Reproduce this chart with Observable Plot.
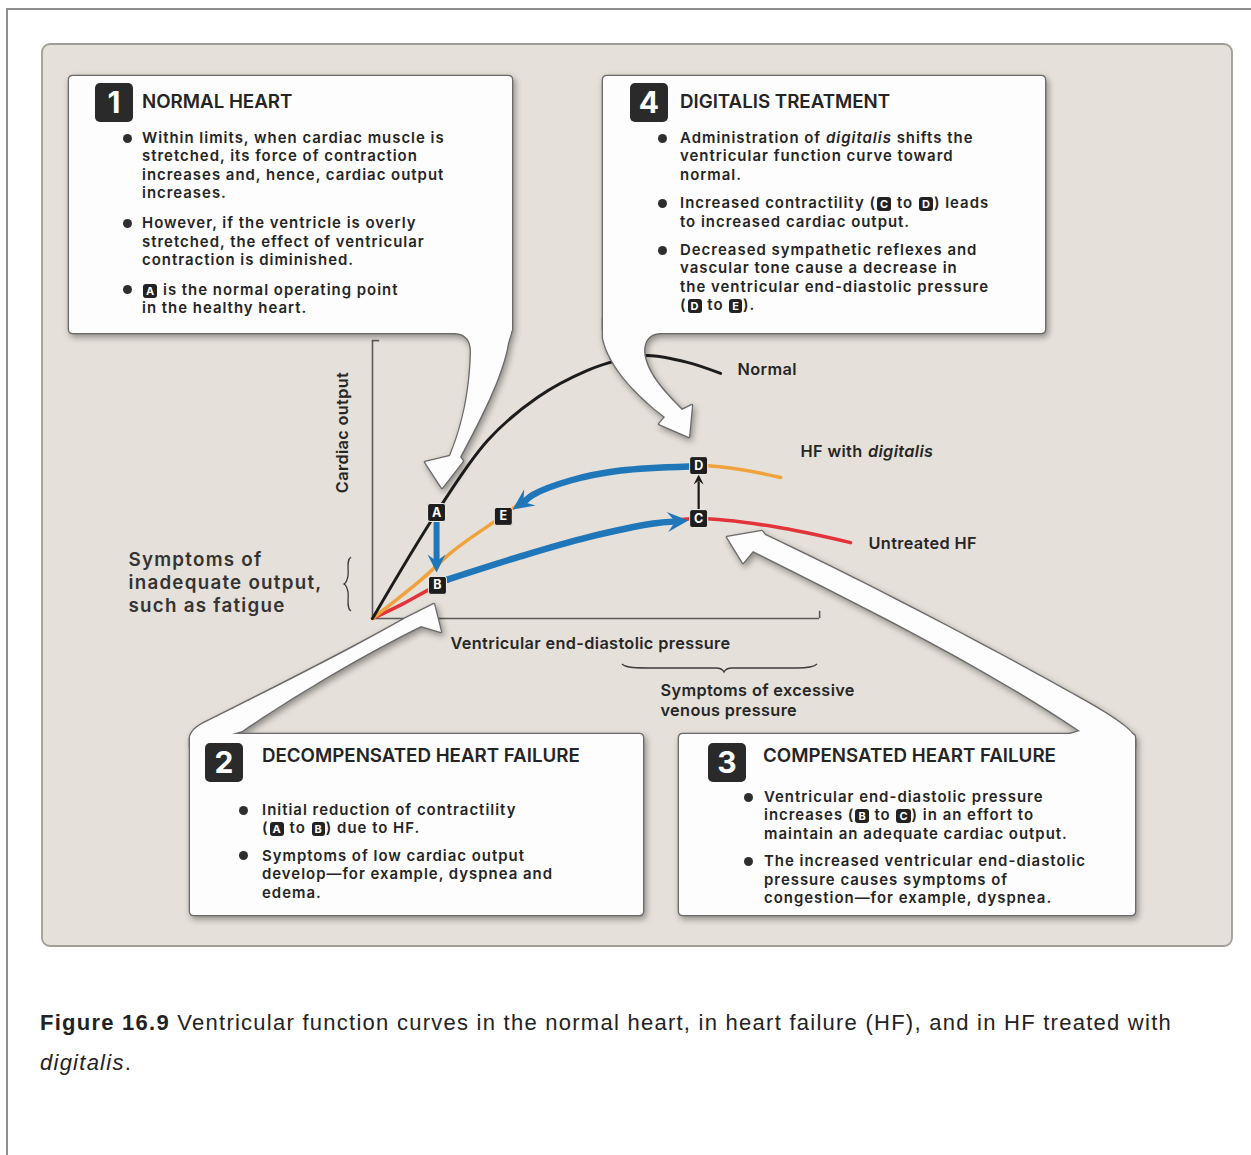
<!DOCTYPE html>
<html><head><meta charset="utf-8">
<script src="https://cdn.jsdelivr.net/npm/d3@7"></script>
<script src="https://cdn.jsdelivr.net/npm/@observablehq/plot@0.6"></script>
<style>
html,body{margin:0;padding:0;background:#fff;overflow:hidden;width:1251px;height:1155px;position:relative;}
#frame{position:absolute;left:6px;top:8px;width:1400px;height:1400px;border:2px solid #8d8d8d;box-sizing:border-box;}
#stage{position:absolute;left:0;top:0;width:1251px;height:960px;}
#stage svg{position:absolute;left:0;top:0;}
.t{position:absolute;white-space:nowrap;font-family:Inter,"Open Sans",sans-serif;font-weight:600;color:#242424;font-size:15px;line-height:17px;}
.num{position:absolute;width:38px;height:39px;background:#2a2a2a;border-radius:5px;color:#fff;font:700 30px/39px Inter,"Open Sans",sans-serif;text-align:center;}
.dot{position:absolute;width:9px;height:9px;border-radius:50%;background:#2e2e2e;}
.bd{display:inline-block;padding:0 3px;background:#222;color:#fff;border-radius:3px;font-size:11px;line-height:14px;margin:0 1px;font-weight:700;letter-spacing:0;}
.cap{position:absolute;left:40px;white-space:nowrap;font-family:"Liberation Sans Narrow","Liberation Sans",Arial,sans-serif;font-size:22px;line-height:22px;color:#222;}
</style></head><body>
<div id="frame"></div>
<div id="stage"></div>
<div id="cap1" class="cap" style="top:1012px"><b>Figure 16.9</b> Ventricular function curves in the normal heart, in heart failure (HF), and in HF treated with</div>
<div id="cap2" class="cap" style="top:1052px"><i>digitalis</i>.</div>
<script>
// ---------------- DATA (pressure 0-100, cardiac output 0-100) ----------------
const normalPressure = [0, 14.3, 25.7, 36.8, 48.0, 55.4, 61.4, 70.3, 77.7];
const normalOutput   = [0, 38.4, 64.5, 80.1, 89.9, 93.8, 95.3, 92.8, 88.8];

const digitalisPressure = [0, 10.7, 18.1, 29.2, 35.9, 44.2, 55.4, 72.8, 82.1, 91.1];
const digitalisOutput   = [0, 13.8, 24.6, 37.3, 44.9, 50.0, 53.6, 55.4, 54.0, 51.1];

const untreatedPressure = [0, 6.9, 14.5, 24.1, 33.0, 48.0, 62.7, 72.8, 89.5, 106.7];
const untreatedOutput   = [0, 5.4, 12.0, 18.2, 22.5, 29.4, 34.4, 36.2, 33.3, 27.5];

const pointLabels   = ["A", "B", "C", "D", "E"];
const pointPressure = [14.3, 14.5, 72.8, 72.8, 29.2];
const pointOutput   = [38.4, 12.0, 36.2, 55.4, 37.0];

// transitions: shaft points + tip
const abPressure = [14.3, 14.3], abOutput = [35.1, 19.6], abTip = [14.3, 16.7];
const bcPressure = [16.7, 33.0, 48.0, 62.7, 67.2], bcOutput = [14.1, 22.5, 29.4, 34.4, 35.1], bcTip = [70.5, 35.5];
const dePressure = [70.8, 55.4, 44.2, 35.9, 34.2], deOutput = [55.1, 53.6, 50.0, 44.9, 42.8], deTip = [31.3, 39.5];
const cdPressure = [72.8, 72.8], cdOutput = [39.5, 49.3], cdTip = [72.8, 52.2];

const curveLabels = ["Normal", "HF with ", "digitalis", "Untreated HF"];
const axisLabels = ["Cardiac output", "Ventricular end-diastolic pressure"];
const symptomLabels = ["Symptoms of\ninadequate output,\nsuch as fatigue", "Symptoms of excessive\nvenous pressure"];

const box1Title = "NORMAL HEART";
const box1Paras = [
  ["Within limits, when cardiac muscle is", "stretched, its force of contraction", "increases and, hence, cardiac output", "increases."],
  ["However, if the ventricle is overly", "stretched, the effect of ventricular", "contraction is diminished."],
  ["{A} is the normal operating point", "in the healthy heart."]
];
const box4Title = "DIGITALIS TREATMENT";
const box4Paras = [
  ["Administration of <i>digitalis</i> shifts the", "ventricular function curve toward", "normal."],
  ["Increased contractility ({C} to {D}) leads", "to increased cardiac output."],
  ["Decreased sympathetic reflexes and", "vascular tone cause a decrease in", "the ventricular end-diastolic pressure", "({D} to {E})."]
];
const box2Title = "DECOMPENSATED HEART FAILURE";
const box2Paras = [
  ["Initial reduction of contractility", "({A} to {B}) due to HF."],
  ["Symptoms of low cardiac output", "develop\u2014for example, dyspnea and", "edema."]
];
const box3Title = "COMPENSATED HEART FAILURE";
const box3Paras = [
  ["Ventricular end-diastolic pressure", "increases ({B} to {C}) in an effort to", "maintain an adequate cardiac output."],
  ["The increased ventricular end-diastolic", "pressure causes symptoms of", "congestion\u2014for example, dyspnea."]
];

// ---------------- LAYOUT (pixels) ----------------
const layout = {
  panel: {x: 42, y: 44, w: 1190, h: 902},
  boxes: [
    {x: 69, y: 76, w: 443, h: 257},
    {x: 603, y: 76, w: 442, h: 257},
    {x: 190, y: 734, w: 453, h: 181},
    {x: 679, y: 734, w: 456, h: 181}
  ],
  arrows: [
    "M455,318 L455,333 Q471,334 471,352 C470,395 461,430 450,456 L425,462 L442,488 L463,461 L460,457 C480,420 503,375 508,343 L511,333 L511,318 Z",
    "M603,318 L603,338 C609,368 640,398 665,417 L659,424 L689,437 L692,405 L682,410 C662,390 646,372 644,352 Q644,334 660,333 L660,318 Z",
    "M202,748 L190,748 L190,738 C191,730 199,725 210,720 C280,685 350,650 406,618 L434,604 L441,632 L421,626 C360,656 292,697 242,731 L232,734 L232,748 Z",
    "M1122,748 L1135,748 L1135,739 C1134,731 1115,718 1085,701 C1025,667 890,594 765,535 L762,531 L727,537 L743,563 L753,551 C865,607 985,667 1080,731 L1070,734 L1070,748 Z"
  ],
  braces: [
    "M351,557 C346,560 349,570 348,576 C347,581 346,583 344,584 C346,585 347,587 348,592 C349,598 346,608 351,611",
    "M622,664 C626,668 636,668 656,668 L716,668 C721,668 723,670 724,672 C725,670 727,668 732,668 L797,668 C809,668 814,667 817,664"
  ],
  texts: [
    {title: box1Title, paras: box1Paras, num: "1", numX: 95, numY: 83, titleX: 142, titleBase: 108, x: 142, base: 143, gap: 11.5, dotDx: 15},
    {title: box4Title, paras: box4Paras, num: "4", numX: 630, numY: 83, titleX: 680, titleBase: 108, x: 680, base: 143, gap: 10, dotDx: 18},
    {title: box2Title, paras: box2Paras, num: "2", numX: 205, numY: 743, titleX: 262, titleBase: 762, x: 262, base: 815, gap: 9, dotDx: 19},
    {title: box3Title, paras: box3Paras, num: "3", numX: 708, numY: 743, titleX: 763, titleBase: 762, x: 764, base: 802, gap: 9, dotDx: 16}
  ],
  lineH: 18.4, bigLine: 23, labelLine: 20,
  fit: {body: ["Within limits, when cardiac muscle is", 303], title: ["DECOMPENSATED HEART FAILURE", 318],
        label: ["Ventricular end-diastolic pressure", 280], big: ["inadequate output,", 194], caption: 1132}
};

const COLORS = {normal: "#1c1c1c", digitalis: "#f0a23c", untreated: "#e2323a", blue: "#1f76b8", axis: "#5a5a5a", text: "#262626"};
const FAMILY = "Inter, 'Open Sans', sans-serif";
const WEIGHT = 600;

// font-size / letter-spacing fitting via canvas measurement
const mctx = document.createElement("canvas").getContext("2d");
function textWidth(text, size, weight = WEIGHT, style = "") { mctx.font = `${style} ${weight} ${size}px ${FAMILY}`; return mctx.measureText(text).width; }
mctx.font = `${WEIGHT} 100px ${FAMILY}`;
const mm = mctx.measureText("Hg");
const contentRatio = (mm.fontBoundingBoxAscent && mm.fontBoundingBoxDescent) ? (mm.fontBoundingBoxAscent + mm.fontBoundingBoxDescent) / 100 : 1.21;
// largest size that fits the target width while stacked lines stay apart
function fitFont([text, target], lineStep = Infinity) {
  const size = Math.min(100 * target / textWidth(text, 100), (lineStep - 0.3) / contentRatio);
  return {size, spacing: Math.max(0, (target - textWidth(text, size)) / text.length)};
}
const body = fitFont(layout.fit.body, layout.lineH);
const title = fitFont(layout.fit.title);
const label = fitFont(layout.fit.label, layout.labelLine);
const big = fitFont(layout.fit.big, layout.bigLine);

// scales mirrored from the Plot scales
const X = d3.scaleLinear([0, 100], [372, 820]);
const Y = d3.scaleLinear([0, 100], [618, 342]);

const rows = (xs, ys) => xs.map((x, i) => ({x, y: ys[i]}));

function headSymbol(from, tip, L, w) {
  const a = Math.atan2(Y(tip[1]) - Y(from[1]), X(tip[0]) - X(from[0]));
  const c = Math.cos(a), s = Math.sin(a);
  const pts = [[0, 0], [-L, -w], [-0.62 * L, 0], [-L, w]].map(([px, py]) => [px * c - py * s, px * s + py * c]);
  return {draw(ctx) { ctx.moveTo(...pts[0]); for (let i = 1; i < pts.length; i++) ctx.lineTo(...pts[i]); ctx.closePath(); }};
}
const badgeSymbol = {draw(ctx, size) {
  const h = Math.sqrt(size / Math.PI), r = 2.5;
  ctx.moveTo(-h + r, -h); ctx.lineTo(h - r, -h); ctx.arcTo(h, -h, h, -h + r, r);
  ctx.lineTo(h, h - r); ctx.arcTo(h, h, h - r, h, r); ctx.lineTo(-h + r, h); ctx.arcTo(-h, h, -h, h - r, r);
  ctx.lineTo(-h, -h + r); ctx.arcTo(-h, -h, -h + r, -h, r); ctx.closePath();
}};

function panelMark() {
  const g = d3.create("svg:g");
  const p = layout.panel;
  g.append("rect").attr("x", p.x).attr("y", p.y).attr("width", p.w).attr("height", p.h).attr("rx", 8)
    .attr("fill", "#e5e0d9").attr("stroke", "#a29d96").attr("stroke-width", 1.8);
  g.selectAll("path.brace").data(layout.braces).join("path").attr("d", d => d)
    .attr("fill", "none").attr("stroke", "#3c3c3c").attr("stroke-width", 1.3);
  return g.node();
}
function roundRect(b, r = 4) {
  return `M${b.x + r},${b.y} H${b.x + b.w - r} Q${b.x + b.w},${b.y} ${b.x + b.w},${b.y + r} V${b.y + b.h - r} Q${b.x + b.w},${b.y + b.h} ${b.x + b.w - r},${b.y + b.h} H${b.x + r} Q${b.x},${b.y + b.h} ${b.x},${b.y + b.h - r} V${b.y + r} Q${b.x},${b.y} ${b.x + r},${b.y} Z`;
}
function calloutMark() {
  const g = d3.create("svg:g");
  const shapes = [...layout.boxes.map(b => roundRect(b)), ...layout.arrows];
  g.append("g").style("filter", "drop-shadow(2px 3px 3px rgba(0,0,0,0.38))")
    .selectAll("path").data(shapes).join("path").attr("d", d => d)
    .attr("fill", "#fff").attr("stroke", "#6a6a6a").attr("stroke-width", 2.6).attr("stroke-linejoin", "round");
  g.append("g").selectAll("path").data(shapes).join("path").attr("d", d => d).attr("fill", "#fdfdfd");
  return g.node();
}

const points = pointLabels.map((l, i) => ({label: l, x: pointPressure[i], y: pointOutput[i]}));
const tips = [
  {from: [abPressure[1], abOutput[1]], tip: abTip, L: 18, w: 9, fill: COLORS.blue},
  {from: [bcPressure[4], bcOutput[4]], tip: bcTip, L: 21, w: 10, fill: COLORS.blue},
  {from: [dePressure[4], deOutput[4]], tip: deTip, L: 21, w: 10, fill: COLORS.blue},
  {from: [cdPressure[1], cdOutput[1]], tip: cdTip, L: 10, w: 5, fill: "#1a1a1a"}
];

// label anchor positions (pixels -> data units through the same linear mapping)
const hfX = 800, digX = hfX + textWidth(curveLabels[1], label.size) + label.spacing * curveLabels[1].length + 1;
const lbl = (text, px, py, extra = {}) =>
  Plot.text([text], {x: X.invert(px), y: Y.invert(py), text: d => d, textAnchor: "start", fontSize: label.size, fontWeight: WEIGHT, fill: COLORS.text, fontFamily: FAMILY, ...extra});

const plot = Plot.plot({
  width: 1251, height: 960, margin: 0,
  x: {domain: [0, 100], range: [372, 820], axis: null},
  y: {domain: [0, 100], range: [618, 342], axis: null},
  style: {background: "transparent", fontFamily: FAMILY, overflow: "visible"},
  marks: [
    panelMark,
    Plot.ruleX([0], {y1: 0, y2: 100.7, stroke: COLORS.axis, strokeWidth: 1.6}),
    Plot.ruleY([0], {x1: 0, x2: 99.8, stroke: COLORS.axis, strokeWidth: 1.6}),
    Plot.ruleY([100.7], {x1: 0, x2: 1.6, stroke: COLORS.axis, strokeWidth: 1.6}),
    Plot.ruleX([99.8], {y1: 0, y2: 2.6, stroke: COLORS.axis, strokeWidth: 1.6}),
    Plot.line(rows(untreatedPressure, untreatedOutput), {x: "x", y: "y", stroke: COLORS.untreated, strokeWidth: 3.5, curve: "catmull-rom"}),
    Plot.line(rows(digitalisPressure, digitalisOutput), {x: "x", y: "y", stroke: COLORS.digitalis, strokeWidth: 3.5, curve: "catmull-rom"}),
    Plot.line(rows(normalPressure, normalOutput), {x: "x", y: "y", stroke: COLORS.normal, strokeWidth: 3, curve: "catmull-rom"}),
    calloutMark,
    Plot.line(rows(abPressure, abOutput), {x: "x", y: "y", stroke: COLORS.blue, strokeWidth: 6}),
    Plot.line(rows(bcPressure, bcOutput), {x: "x", y: "y", stroke: COLORS.blue, strokeWidth: 6.5, curve: "catmull-rom"}),
    Plot.line(rows(dePressure, deOutput), {x: "x", y: "y", stroke: COLORS.blue, strokeWidth: 6.5, curve: "catmull-rom"}),
    Plot.line(rows(cdPressure, cdOutput), {x: "x", y: "y", stroke: "#1a1a1a", strokeWidth: 2.2}),
    ...tips.map(t => Plot.dot([{x: t.tip[0], y: t.tip[1]}], {x: "x", y: "y", r: 5, symbol: headSymbol(t.from, t.tip, t.L, t.w), fill: t.fill, stroke: "none"})),
    Plot.dot(points, {x: "x", y: "y", r: 9, symbol: badgeSymbol, fill: "#1e1e1e", stroke: "#f3f0ea", strokeWidth: 1}),
    Plot.text(points, {x: "x", y: "y", text: "label", fill: "white", fontWeight: 700, fontSize: 12.5, fontFamily: FAMILY}),
    // curve labels
    lbl(curveLabels[0], 737, 369),
    lbl(curveLabels[1], hfX, 451),
    lbl(curveLabels[2], digX, 451, {fontStyle: "italic"}),
    lbl(curveLabels[3], 868, 543),
    // axis labels
    lbl(axisLabels[0], 342, 432, {textAnchor: "middle", rotate: -90}),
    lbl(axisLabels[1], 590, 643, {textAnchor: "middle"}),
    // symptom notes
    lbl(symptomLabels[0], 128, 581, {fontSize: big.size, lineHeight: layout.bigLine / big.size, fill: "#333"}),
    lbl(symptomLabels[1], 660, 699, {lineHeight: layout.labelLine / label.size})
  ]
});
// letter spacing for labels so their widths follow the reference
d3.select(plot).selectAll("text").filter(function() { return this.textContent.length > 1; })
  .style("letter-spacing", function() { return (this.textContent.includes("inadequate") ? big.spacing : label.spacing) + "px"; });
const stage = document.getElementById("stage");
stage.appendChild(plot);

// ---------------- box texts (HTML overlay) ----------------
function baselineOffset(size) {
  const d = document.createElement("div");
  d.className = "t"; d.style.fontSize = size + "px"; d.style.visibility = "hidden"; d.style.left = "0px"; d.style.top = "0px";
  d.innerHTML = 'Hg<span style="display:inline-block;width:1px;height:0;vertical-align:baseline"></span>';
  stage.appendChild(d);
  const off = d.lastChild.getBoundingClientRect().top - d.getBoundingClientRect().top;
  d.remove();
  return off;
}
const offBody = baselineOffset(body.size);
const offTitle = baselineOffset(title.size);
const fmt = s => s.replace(/\{([A-E])\}/g, '<span class="bd">$1</span>');
function addDiv(cls, html, x, y, size, spacing) {
  const d = document.createElement("div");
  d.className = cls; d.innerHTML = html; d.style.left = x + "px"; d.style.top = y + "px";
  if (size) d.style.fontSize = size + "px";
  if (spacing) d.style.letterSpacing = spacing + "px";
  stage.appendChild(d); return d;
}
for (const b of layout.texts) {
  addDiv("num", b.num, b.numX, b.numY);
  addDiv("t", b.title, b.titleX, b.titleBase - offTitle, title.size);
  let base = b.base;
  b.paras.forEach((para, pi) => {
    if (pi > 0) base += b.gap;
    addDiv("dot", "", b.x - b.dotDx - 4.5, base - 9.5);
    para.forEach(line => { addDiv("t", fmt(line), b.x, base - offBody, body.size, body.spacing); base += layout.lineH; });
  });
}

// caption letter-spacing fit
const cap1 = document.getElementById("cap1"), cap2 = document.getElementById("cap2");
const w = cap1.getBoundingClientRect().width;
const ls = (layout.fit.caption - w) / cap1.textContent.length;
cap1.style.letterSpacing = ls + "px";
cap2.style.letterSpacing = ls + "px";
</script>
</body></html>
